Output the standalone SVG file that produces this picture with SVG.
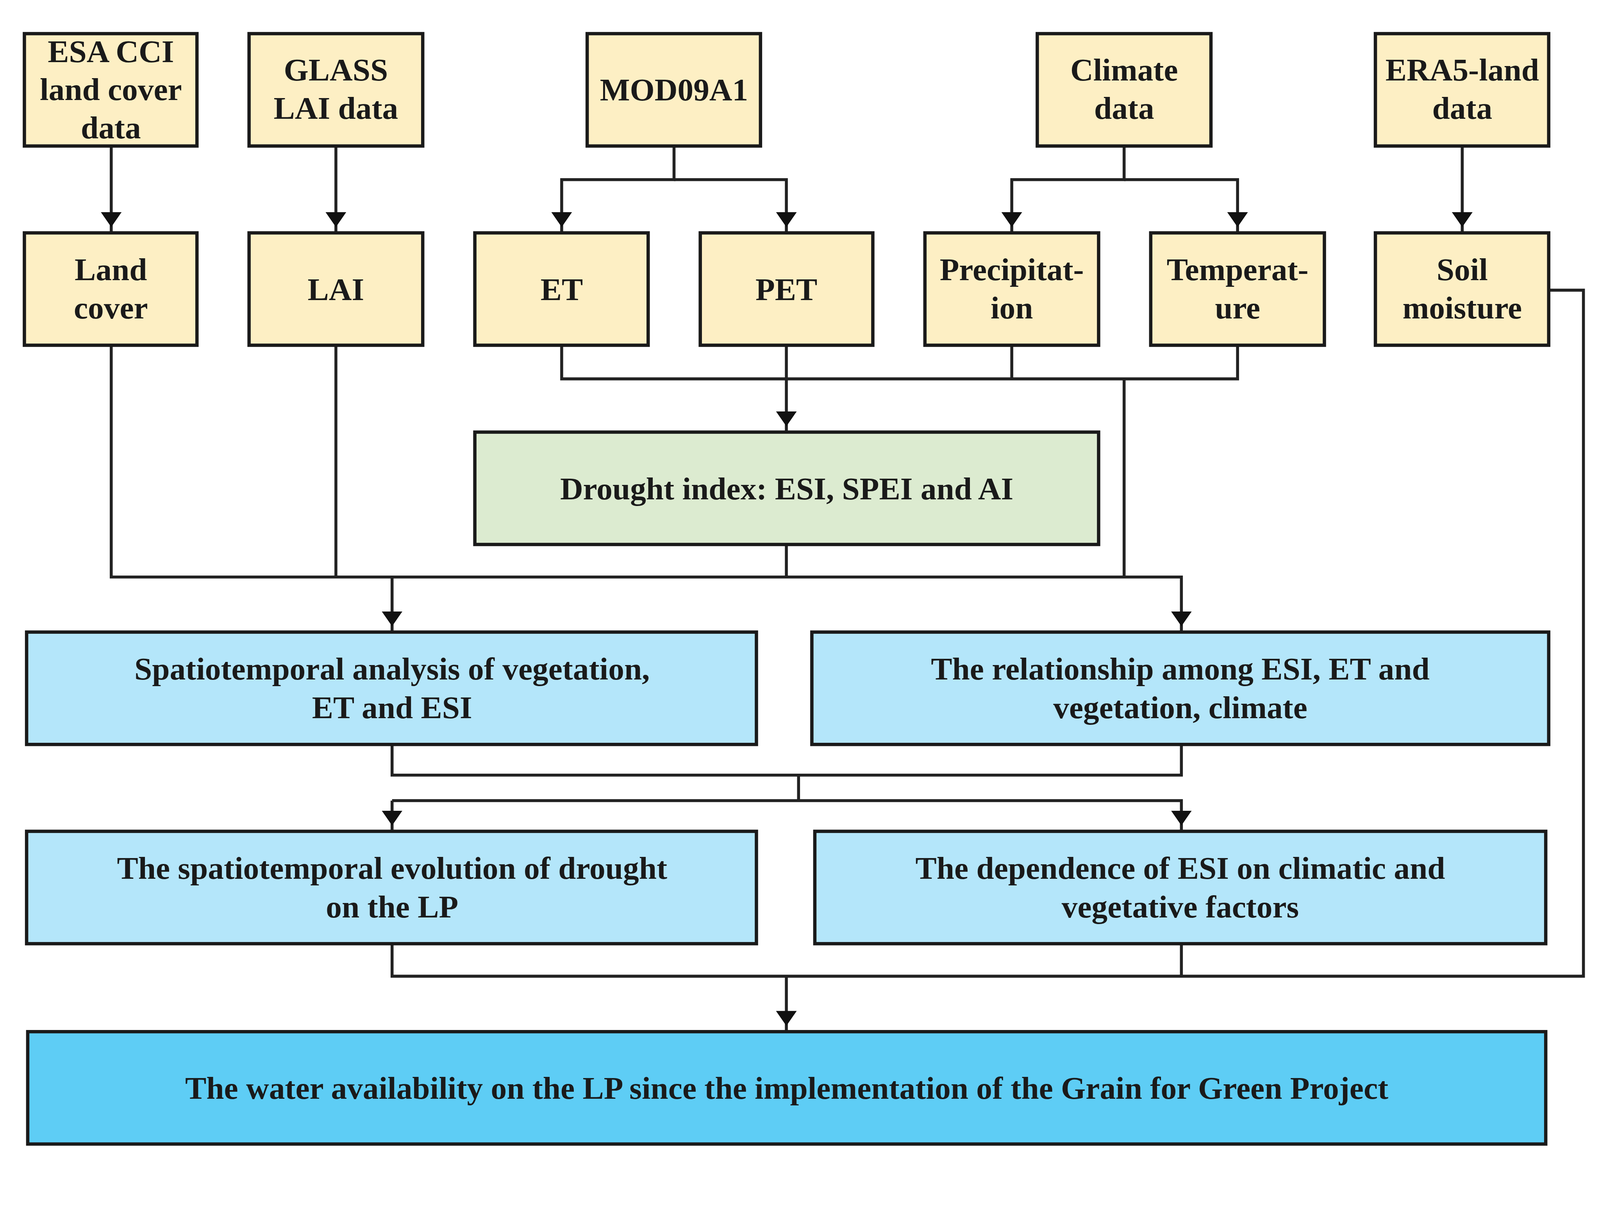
<svg xmlns="http://www.w3.org/2000/svg" width="4310" height="3153" viewBox="0 0 4310 3153">
<defs>
<style>
.b{fill:#fdefc4;stroke:#1a1a1a;stroke-width:9}
.g{fill:#dcebd0;stroke:#1a1a1a;stroke-width:9}
.c{fill:#b4e6fa;stroke:#1a1a1a;stroke-width:9}
.f{fill:#5ecdf5;stroke:#1a1a1a;stroke-width:9}
text{font-family:"Liberation Serif",serif;font-weight:bold;font-size:86px;fill:#1a1a1a;text-anchor:middle}
.l{fill:none;stroke:#222;stroke-width:8}
.ar{marker-end:url(#a)}
</style>
<marker id="a" viewBox="0 0 10 14" refX="14" refY="7" markerWidth="40" markerHeight="56" markerUnits="userSpaceOnUse" orient="auto"><path d="M0,0L14,7L0,14z" transform="scale(0.72,1)" fill="#111"/></marker>
</defs>
<rect width="4310" height="3153" fill="#fff"/>
<g transform="scale(0.946)">
<g id="connectors">
<path class="l ar" d="M301,395V630"/>
<path class="l ar" d="M909,395V630"/>
<path class="l ar" d="M1824,395V486H1520V630"/>
<path class="l ar" d="M1824,486H2128V630"/>
<path class="l ar" d="M3042,395V486H2738V630"/>
<path class="l ar" d="M3042,486H3349V630"/>
<path class="l ar" d="M3957,395V630"/>
<path class="l" d="M1520,934V1025H3349V934M2738,934V1025"/>
<path class="l ar" d="M2128,934V1169"/>
<path class="l" d="M3042,1025V1561"/>
<path class="l ar" d="M301,934V1561H3197V1710"/>
<path class="l" d="M909,934V1561M2128,1473V1561"/>
<path class="l ar" d="M1061,1561V1710"/>
<path class="l" d="M1061,2014V2097H3197V2014M2161,2097V2166"/>
<path class="l ar" d="M1061,2166H3197V2249"/>
<path class="l ar" d="M1061,2166V2249"/>
<path class="l" d="M1061,2553V2641H4285V785H4191M3197,2553V2641"/>
<path class="l ar" d="M2128,2641V2791"/>
</g>
<g id="esa"><rect class="b" x="66" y="91" width="467" height="304"/><text x="300" y="168">ESA CCI</text><text x="300" y="271">land cover</text><text x="300" y="374">data</text></g>
<g id="glass"><rect class="b" x="674" y="91" width="470" height="304"/><text x="909" y="218">GLASS</text><text x="909" y="321">LAI data</text></g>
<g id="mod"><rect class="b" x="1589" y="91" width="469" height="304"/><text x="1824" y="272">MOD09A1</text></g>
<g id="climate"><rect class="b" x="2807" y="91" width="470" height="304"/><text x="3042" y="218">Climate</text><text x="3042" y="321">data</text></g>
<g id="era5"><rect class="b" x="3722" y="91" width="469" height="304"/><text x="3957" y="218">ERA5-land</text><text x="3957" y="321">data</text></g>
<g id="landcover"><rect class="b" x="66" y="630" width="467" height="304"/><text x="300" y="758">Land</text><text x="300" y="861">cover</text></g>
<g id="lai"><rect class="b" x="674" y="630" width="470" height="304"/><text x="909" y="812">LAI</text></g>
<g id="et"><rect class="b" x="1285" y="630" width="469" height="304"/><text x="1520" y="812">ET</text></g>
<g id="pet"><rect class="b" x="1895" y="630" width="467" height="304"/><text x="2128" y="812">PET</text></g>
<g id="precip"><rect class="b" x="2503" y="630" width="470" height="304"/><text x="2738" y="758">Precipitat-</text><text x="2738" y="861">ion</text></g>
<g id="temp"><rect class="b" x="3114" y="630" width="470" height="304"/><text x="3349" y="758">Temperat-</text><text x="3349" y="861">ure</text></g>
<g id="soil"><rect class="b" x="3722" y="630" width="469" height="304"/><text x="3957" y="758">Soil</text><text x="3957" y="861">moisture</text></g>
<g id="drought"><rect class="g" x="1285" y="1169" width="1688" height="304"/><text x="2129" y="1351">Drought index: ESI, SPEI and AI</text></g>
<g id="spatio"><rect class="c" x="72" y="1710" width="1975" height="304"/><text x="1061" y="1838">Spatiotemporal analysis of vegetation,</text><text x="1061" y="1943">ET and ESI</text></g>
<g id="relation"><rect class="c" x="2197" y="1710" width="1994" height="304"/><text x="3194" y="1838">The relationship among ESI, ET and</text><text x="3194" y="1943">vegetation, climate</text></g>
<g id="evolution"><rect class="c" x="72" y="2249" width="1975" height="304"/><text x="1061" y="2377">The spatiotemporal evolution of drought</text><text x="1061" y="2482">on the LP</text></g>
<g id="dependence"><rect class="c" x="2205" y="2249" width="1978" height="304"/><text x="3194" y="2377">The dependence of ESI on climatic and</text><text x="3194" y="2482">vegetative factors</text></g>
<g id="water"><rect class="f" x="75" y="2791" width="4108" height="304"/><text x="2129" y="2973">The water availability on the LP since the implementation of the Grain for Green Project</text></g>
</g>
</svg>
